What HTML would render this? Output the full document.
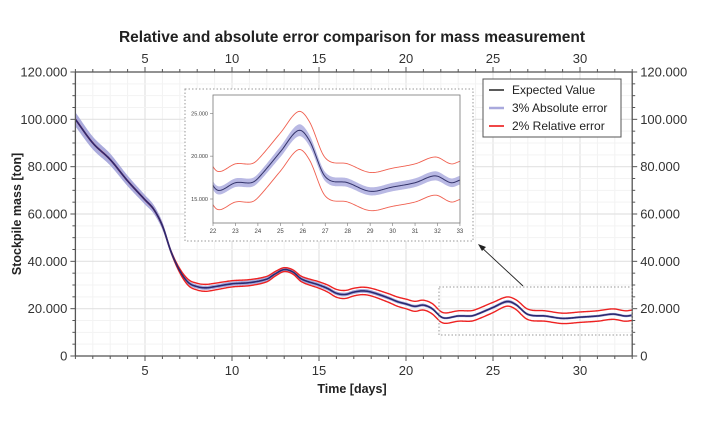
<!DOCTYPE html>
<html><head><meta charset="utf-8">
<style>
body{margin:0;background:#fff;}
svg{font-family:"Liberation Sans","DejaVu Sans",sans-serif;}
</style></head>
<body>
<svg id="s" width="704" height="425" viewBox="0 0 704 425" xmlns="http://www.w3.org/2000/svg">
<rect width="704" height="425" fill="#fff"/>
<g id="grid"></g>
<g id="series"></g>
<g id="axes" stroke="#555" fill="none"></g>
<g id="labels" font-size="13" fill="#333"></g>
<text x="352" y="42" text-anchor="middle" font-size="15.5" font-weight="bold" fill="#222">Relative and absolute error comparison for mass measurement</text>
<text x="352" y="393" text-anchor="middle" font-size="12.5" font-weight="bold" fill="#222">Time [days]</text>
<text transform="translate(21,214) rotate(-90)" text-anchor="middle" font-size="12.5" font-weight="bold" fill="#222">Stockpile mass [ton]</text>
<rect x="439" y="287" width="193" height="48" fill="none" stroke="#999" stroke-dasharray="1.5,2"/>
<line x1="523" y1="286" x2="480" y2="246" stroke="#222" stroke-width="0.9"/>
<polygon points="478,244 486,247 482,251" fill="#222"/>
<rect x="185" y="89" width="288" height="152" fill="#fff" stroke="#999" stroke-dasharray="1.5,2"/>
<g id="inset"></g>
<rect x="483" y="79" width="138" height="58" fill="#fff" stroke="#555"/>
<line x1="489" y1="90" x2="504" y2="90" stroke="#222" stroke-width="1.5"/>
<line x1="489" y1="108" x2="504" y2="108" stroke="#a9a9dd" stroke-width="2.5"/>
<line x1="489" y1="126" x2="504" y2="126" stroke="#e33" stroke-width="1.8"/>
<g font-size="12" fill="#222"><text x="512" y="94">Expected Value</text><text x="512" y="112">3% Absolute error</text><text x="512" y="130">2% Relative error</text></g>
</svg>
<script>
var NS="http://www.w3.org/2000/svg";
function el(p,t,a,txt){var e=document.createElementNS(NS,t);for(var k in a)e.setAttribute(k,a[k]);if(txt!==undefined)e.textContent=txt;document.getElementById(p).appendChild(e);return e;}
var X=function(t){return 75.4+(t-1)*17.4;}, Y=function(v){return 356-v*284/120;};
var L=75.4,R=632.2,T=72,B=356;
for(var t=1;t<=33;t++){var x=X(t);el("grid","line",{x1:x,x2:x,y1:T,y2:B,stroke:t%5==0?"#e2e2e2":"#f2f2f2","stroke-width":t%5==0?1.2:1});}
for(var v=0;v<=120;v+=5){var y=Y(v);el("grid","line",{x1:L,x2:R,y1:y,y2:y,stroke:v%20==0?"#e2e2e2":"#f3f3f3","stroke-width":v%20==0?1.2:1});}
el("axes","line",{x1:L,x2:L,y1:T,y2:B,"stroke-width":1.3});
el("axes","line",{x1:R,x2:R,y1:T,y2:B,"stroke-width":1.3});
el("axes","line",{x1:L,x2:R,y1:B,y2:B,"stroke-width":1.3});
el("axes","line",{x1:L,x2:R,y1:T,y2:T,"stroke-width":1.3});
for(var t=1;t<=33;t++){var x=X(t),l=t%5==0?5:3;el("axes","line",{x1:x,x2:x,y1:B,y2:B+l});el("axes","line",{x1:x,x2:x,y1:T,y2:T-l});}
for(var v=0;v<=120;v+=5){var y=Y(v),l=v%20==0?5:3;el("axes","line",{x1:L-l,x2:L,y1:y,y2:y});el("axes","line",{x1:R,x2:R+l,y1:y,y2:y});}
for(var t=5;t<=30;t+=5){el("labels","text",{x:X(t),y:B+19,"text-anchor":"middle"},t);el("labels","text",{x:X(t),y:T-9,"text-anchor":"middle"},t);}
for(var v=0;v<=120;v+=20){var s=v==0?"0":v+".000";el("labels","text",{x:L-8,y:Y(v)+4.5,"text-anchor":"end"},s);el("labels","text",{x:R+8,y:Y(v)+4.5},s);}
var P=[[1,100],[2,90],[3,83],[4,74],[5,66],[5.5,62],[6,55],[6.5,44],[7,36],[7.5,31],[8,29.3],[8.5,28.8],[9,29.3],[10,30.5],[11,31],[12,32.5],[12.5,34.8],[13,36.5],[13.5,35.5],[14,32.5],[15,30],[15.5,28.5],[16,26.5],[16.5,26],[17,27],[17.5,27.5],[18,27],[19,24.5],[19.5,23],[20,22],[20.5,21],[21,21.5],[21.5,20],[22,16.6],[22.3,16],[23,16.9],[23.7,16.9],[24,17.4],[25,20.5],[25.8,23],[26.3,21.8],[27,17.6],[28,16.9],[29,15.9],[30,16.4],[31,16.9],[31.9,17.7],[32.6,16.9],[33,17.2]];
function cr(t){var i=0;while(i<P.length-2&&P[i+1][0]<t)i++;var p0=P[Math.max(i-1,0)],p1=P[i],p2=P[i+1],p3=P[Math.min(i+2,P.length-1)];
 var u=(t-p1[0])/(p2[0]-p1[0]);var m1=(p2[1]-p0[1])/(p2[0]-p0[0])*(p2[0]-p1[0]),m2=(p3[1]-p1[1])/(p3[0]-p1[0])*(p2[0]-p1[0]);
 var u2=u*u,u3=u2*u;return (2*u3-3*u2+1)*p1[1]+(u3-2*u2+u)*m1+(-2*u3+3*u2)*p2[1]+(u3-u2)*m2;}
function path(fx,fy,t0,t1,g){var d="";for(var t=t0;t<=t1+1e-9;t+=0.05){d+=(d?"L":"M")+fx(t).toFixed(2)+","+fy(g(t)).toFixed(2);}return d;}
function band(fx,fy,t0,t1,lo,hi){var a=[],b=[];for(var t=t0;t<=t1+1e-9;t+=0.05){a.push(fx(t).toFixed(2)+","+fy(hi(t)).toFixed(2));b.unshift(fx(t).toFixed(2)+","+fy(lo(t)).toFixed(2));}return "M"+a.join("L")+"L"+b.join("L")+"Z";}
function ro(v){var k=(45-v)/25;k=Math.max(0,Math.min(1,k));return 0.1+2.1*k;}
el("series","path",{d:band(X,Y,1,33,function(t){return cr(t)*0.97},function(t){return cr(t)*1.03}),fill:"#aaaadc"});
el("series","path",{d:path(X,Y,1,33,function(t){var v=cr(t);return v+ro(v)}),fill:"none",stroke:"#e22","stroke-width":1.4});
el("series","path",{d:path(X,Y,1,33,function(t){var v=cr(t);return v-ro(v)}),fill:"none",stroke:"#e22","stroke-width":1.4});
el("series","path",{d:path(X,Y,1,33,cr),fill:"none",stroke:"#2a2a70","stroke-width":1.6});
var IX=function(t){return 213+(t-22)*22.45}, IY=function(v){return 199-(v-15)*8.57};
el("inset","path",{d:band(IX,IY,22,33,function(t){return cr(t)-0.03*cr(t)},function(t){return cr(t)+0.03*cr(t)}),fill:"#b9b9e4"});
el("inset","path",{d:path(IX,IY,22,33,function(t){var v=cr(t);return v+2.2}),fill:"none",stroke:"#f06050","stroke-width":0.9});
el("inset","path",{d:path(IX,IY,22,33,function(t){var v=cr(t);return v-2.25}),fill:"none",stroke:"#f06050","stroke-width":0.9});
el("inset","path",{d:path(IX,IY,22,33,cr),fill:"none",stroke:"#33336a","stroke-width":1});
el("inset","rect",{x:213,y:95,width:247,height:128,fill:"none",stroke:"#777","stroke-width":0.8});
for(var t=22;t<=33;t++){el("inset","line",{x1:IX(t),x2:IX(t),y1:223,y2:226,stroke:"#777","stroke-width":0.6});el("inset","text",{x:IX(t),y:233,"text-anchor":"middle","font-size":"6",fill:"#444"},t);}
[15,20,25].forEach(function(v){el("inset","line",{x1:210,x2:213,y1:IY(v),y2:IY(v),stroke:"#777","stroke-width":0.6});el("inset","text",{x:208,y:IY(v)+2,"text-anchor":"end","font-size":"5.5",fill:"#444"},v+".000");});
</script>
</body></html>
